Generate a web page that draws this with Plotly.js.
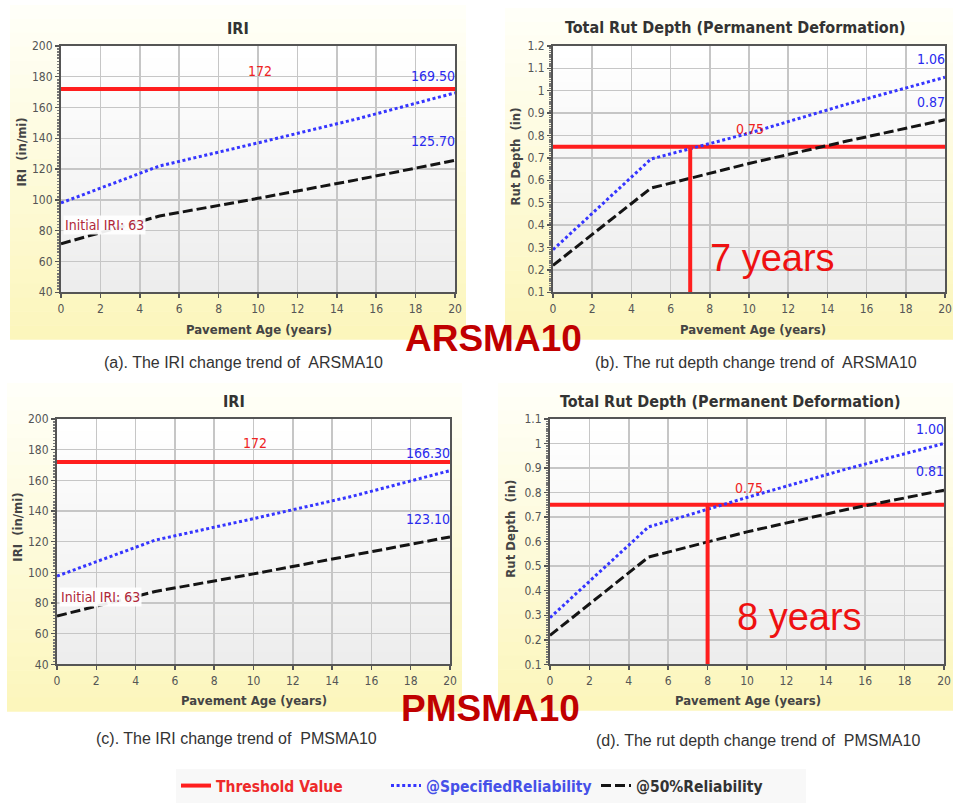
<!DOCTYPE html>
<html>
<head>
<meta charset="utf-8">
<script src="https://cdn.plot.ly/plotly-3.0.1.min.js"></script>
<style>
  html, body { margin: 0; padding: 0; background: #ffffff; }
  #chart { width: 953px; height: 803px; }
</style>
</head>
<body>
<div id="chart"></div>
<script>
// ---- data -------------------------------------------------------------
const years = [0, 5, 10, 15, 20];

// IRI (in/mi), ARSMA10
const iriSpecARS = [98, 122, 137, 152.5, 169.5];
const iri50ARS   = [71.5, 89.5, 101, 113, 125.7];
// IRI (in/mi), PMSMA10
const iriSpecPMS = [97.5, 121, 135, 149.5, 166.3];
const iri50PMS   = [71.5, 87.5, 99, 111, 123.1];

// Total rut depth (in), ARSMA10
const rutSpecARS = [0.29, 0.695, 0.81, 0.94, 1.06];
const rut50ARS   = [0.22, 0.565, 0.675, 0.775, 0.87];
// Total rut depth (in), PMSMA10
const rutSpecPMS = [0.29, 0.66, 0.78, 0.895, 1.00];
const rut50PMS   = [0.218, 0.537, 0.64, 0.73, 0.81];

const iriThreshold = 172;
const rutThreshold = 0.75;
const initialIRI = 63;
const failYearARS = 7;
const failYearPMS = 8;

const iriRange = [40, 200];
const rutRangeARS = [0.1, 1.2];
const rutRangePMS = [0.1, 1.1];

const endLabelsIRI_ARS = ['169.50', '125.70'];
const endLabelsIRI_PMS = ['166.30', '123.10'];
const endLabelsRut_ARS = ['1.06', '0.87'];
const endLabelsRut_PMS = ['1.00', '0.81'];

// ---- geometry helpers (page pixels -> paper fractions) -----------------
const W = 953, H = 803;
const px = v => v / W;
const py = v => 1 - v / H;

const RED = '#ff1e1e';
const BLUE = '#3535ff';
const BLACK = '#141414';
const COND = 'DejaVu Sans Condensed, DejaVu Sans, sans-serif';
const ARIAL = 'Liberation Sans, Arial, sans-serif';

// plot-area rectangles in page pixels: [left, top, right, bottom]
const boxes = {
  a: [61, 46, 455, 293],
  b: [553, 46, 945, 293],
  c: [57, 420, 450, 666],
  d: [550, 420, 944, 666]
};

function xAxis(box, anchor) {
  return {
    domain: [px(box[0]), px(box[2])], anchor: anchor,
    range: [years[0], years[years.length - 1]], dtick: 2, tick0: 0,
    showgrid: true, gridcolor: '#c6c6c6', gridwidth: 1.5,
    showline: true, mirror: true, linecolor: '#555', linewidth: 2,
    ticks: 'outside', ticklen: 4, tickcolor: '#555', tickwidth: 1.5,
    tickfont: { family: COND, size: 12, color: '#555' },
    ticklabeloverflow: 'allow',
    zeroline: false, fixedrange: true
  };
}
function yAxis(box, anchor, range, dtick, minorStep) {
  return {
    domain: [py(box[3]), py(box[1])], anchor: anchor,
    range: range, dtick: dtick, tick0: 0,
    showgrid: true, gridcolor: '#c6c6c6', gridwidth: 1.5,
    showline: true, mirror: true, linecolor: '#555', linewidth: 2,
    ticks: 'outside', ticklen: 4, tickcolor: '#555', tickwidth: 1.5,
    minor: { ticks: 'outside', ticklen: 2, tickcolor: '#777', dtick: minorStep, showgrid: false },
    tickfont: { family: COND, size: 12, color: '#555' },
    zeroline: false, fixedrange: true
  };
}

// ---- traces --------------------------------------------------------------
const traces = [];
const lineEnds = [years[0], years[years.length - 1]];

function addPanel(xa, ya, thr, spec, p50, showLegend) {
  traces.push({
    x: lineEnds, y: [thr, thr], xaxis: xa, yaxis: ya, mode: 'lines',
    line: { color: RED, width: 4 },
    name: '<span style="color:#ee2a2a">Threshold Value</span>',
    showlegend: showLegend, hoverinfo: 'skip'
  });
  traces.push({
    x: years, y: spec, xaxis: xa, yaxis: ya, mode: 'lines',
    line: { color: BLUE, width: 3, dash: '3px,2.6px' },
    name: '<span style="color:#4650e8">@SpecifiedReliability</span>',
    showlegend: showLegend, hoverinfo: 'skip'
  });
  traces.push({
    x: years, y: p50, xaxis: xa, yaxis: ya, mode: 'lines',
    line: { color: BLACK, width: 3, dash: '10px,4px' },
    name: '<span style="color:#333">@50%Reliability</span>',
    showlegend: showLegend, hoverinfo: 'skip'
  });
}
function addFailLine(xa, ya, year, bottom, thr) {
  traces.push({
    x: [year, year], y: [bottom, thr], xaxis: xa, yaxis: ya, mode: 'lines',
    line: { color: RED, width: 4 }, showlegend: false, hoverinfo: 'skip'
  });
}

addPanel('x', 'y', iriThreshold, iriSpecARS, iri50ARS, true);
addPanel('x2', 'y2', rutThreshold, rutSpecARS, rut50ARS, false);
addFailLine('x2', 'y2', failYearARS, rutRangeARS[0], rutThreshold);
addPanel('x3', 'y3', iriThreshold, iriSpecPMS, iri50PMS, false);
addPanel('x4', 'y4', rutThreshold, rutSpecPMS, rut50PMS, false);
addFailLine('x4', 'y4', failYearPMS, rutRangePMS[0], rutThreshold);

// ---- background gradients (drawn as thin stacked bands) -----------------
const shapes = [];
function mix(c0, c1, t) {
  return 'rgb(' + c0.map((v, i) => Math.round(v + (c1[i] - v) * t)).join(',') + ')';
}
function gradient(l, t, r, b, cTop, cBot, n) {
  const h = (b - t) / n;
  for (let i = 0; i < n; i++) {
    shapes.push({
      type: 'rect', xref: 'paper', yref: 'paper', layer: 'below',
      x0: px(l), x1: px(r), y0: py(t + (i + 1) * h + 0.5), y1: py(t + i * h),
      fillcolor: mix(cTop, cBot, i / (n - 1)), line: { width: 0 }
    });
  }
}
const creamTop = [255, 255, 248], creamBot = [252, 246, 188];
gradient(10, 5, 466, 340, creamTop, creamBot, 24);
gradient(505, 8, 953, 340, creamTop, creamBot, 24);
gradient(7, 384, 462, 713, creamTop, creamBot, 24);
gradient(498, 384, 953, 712, creamTop, creamBot, 24);
const plotTop = [255, 255, 255], plotBot = [237, 237, 237];
Object.values(boxes).forEach(bx => gradient(bx[0], bx[1], bx[2], bx[3], plotTop, plotBot, 20));

// ---- text ------------------------------------------------------------------
const ann = [];
function paperText(text, x, y, font, extra) {
  ann.push(Object.assign({
    text: text, xref: 'paper', yref: 'paper', x: px(x), y: py(y),
    xanchor: 'center', yanchor: 'middle', showarrow: false, font: font
  }, extra || {}));
}
function dataText(text, xa, ya, x, y, font, extra) {
  ann.push(Object.assign({
    text: text, xref: xa, yref: ya, x: x, y: y,
    xanchor: 'center', yanchor: 'middle', showarrow: false, font: font
  }, extra || {}));
}

const titleFont = { family: COND, size: 16, color: '#333', weight: 'bold' };
const axisFont = { family: COND, size: 13, color: '#444', weight: 'bold' };
const capFont = { family: ARIAL, size: 16, color: '#333' };
const valFont = c => ({ family: COND, size: 14, color: c });

// chart titles
paperText('IRI', 238, 29, titleFont);
paperText('Total Rut Depth (Permanent Deformation)', 735, 28, titleFont);
paperText('IRI', 234, 403, titleFont);
paperText('Total Rut Depth (Permanent Deformation)', 730, 403, titleFont);

// x-axis titles
paperText('Pavement Age (years)', 259, 330, axisFont);
paperText('Pavement Age (years)', 753, 330, axisFont);
paperText('Pavement Age (years)', 254, 702, axisFont);
paperText('Pavement Age (years)', 748, 702, axisFont);

// y-axis titles
paperText('IRI  (in/mi)', 22, 153, axisFont, { textangle: -90 });
paperText('Rut Depth  (in)', 516, 157, axisFont, { textangle: -90 });
paperText('IRI  (in/mi)', 18, 529, axisFont, { textangle: -90 });
paperText('Rut Depth  (in)', 511, 530, axisFont, { textangle: -90 });

// captions
paperText('(a). The IRI change trend of  ARSMA10', 243, 363, capFont);
paperText('(b). The rut depth change trend of  ARSMA10', 756, 363, capFont);
paperText('(c). The IRI change trend of  PMSMA10', 236, 740, capFont);
paperText('(d). The rut depth change trend of  PMSMA10', 758, 742, capFont);

// mix names
const bigFont = { family: ARIAL, size: 37, color: '#c00000', weight: 'bold' };
paperText('ARSMA10', 494, 339, bigFont);
paperText('PMSMA10', 490, 710, bigFont);

// value labels inside the IRI plots
[['x', 'y', endLabelsIRI_ARS, [180.5, 138]], ['x3', 'y3', endLabelsIRI_PMS, [178, 135]]].forEach(p => {
  dataText(String(iriThreshold), p[0], p[1], 10.1, 184, valFont('#ee2222'));
  dataText(p[2][0], p[0], p[1], 20, p[3][0], valFont('#2a2aee'), { xanchor: 'right', xshift: 2 });
  dataText(p[2][1], p[0], p[1], 20, p[3][1], valFont('#2a2aee'), { xanchor: 'right', xshift: 2 });
  dataText('Initial IRI: ' + initialIRI, p[0], p[1], 0.1, 84,
    { family: COND, size: 14, color: '#b02838' },
    { xanchor: 'left', bgcolor: 'rgba(255,255,255,0.92)', borderpad: 1 });
});

// value labels inside the rut plots
dataText(String(rutThreshold), 'x2', 'y2', 10.05, 0.83, valFont('#ee2222'));
dataText(endLabelsRut_ARS[0], 'x2', 'y2', 20, 1.14, valFont('#2a2aee'), { xanchor: 'right', xshift: 2 });
dataText(endLabelsRut_ARS[1], 'x2', 'y2', 20, 0.95, valFont('#2a2aee'), { xanchor: 'right', xshift: 2 });
dataText(String(rutThreshold), 'x4', 'y4', 10.1, 0.82, valFont('#ee2222'));
dataText(endLabelsRut_PMS[0], 'x4', 'y4', 20, 1.06, valFont('#2a2aee'), { xanchor: 'right', xshift: 2 });
dataText(endLabelsRut_PMS[1], 'x4', 'y4', 20, 0.886, valFont('#2a2aee'), { xanchor: 'right', xshift: 2 });

const yearsFont = { family: ARIAL, size: 38, color: '#ee1111' };
dataText(failYearARS + ' years', 'x2', 'y2', 7.9, 0.255, yearsFont, { xanchor: 'left' });
dataText(failYearPMS + ' years', 'x4', 'y4', 9.4, 0.293, yearsFont, { xanchor: 'left' });

// ---- layout ----------------------------------------------------------------
const layout = {
  width: W, height: H,
  margin: { l: 0, r: 0, t: 0, b: 0 },
  paper_bgcolor: '#ffffff', plot_bgcolor: 'rgba(0,0,0,0)',
  xaxis: xAxis(boxes.a, 'y'),
  yaxis: yAxis(boxes.a, 'x', iriRange, 20, 2),
  xaxis2: xAxis(boxes.b, 'y2'),
  yaxis2: yAxis(boxes.b, 'x2', rutRangeARS, 0.1, 0.01),
  xaxis3: xAxis(boxes.c, 'y3'),
  yaxis3: yAxis(boxes.c, 'x3', iriRange, 20, 2),
  xaxis4: xAxis(boxes.d, 'y4'),
  yaxis4: yAxis(boxes.d, 'x4', rutRangePMS, 0.1, 0.01),
  shapes: shapes,
  annotations: ann,
  showlegend: true,
  legend: {
    orientation: 'h', x: px(176), y: py(788), xanchor: 'left', yanchor: 'middle',
    bgcolor: '#f8f8f8', borderwidth: 0,
    font: { family: COND, size: 15.5, color: '#333', weight: 'bold' },
    itemwidth: 30, entrywidth: 165, tracegroupgap: 0
  }
};

Plotly.newPlot('chart', traces, layout, { staticPlot: true, displayModeBar: false });
</script>
</body>
</html>
